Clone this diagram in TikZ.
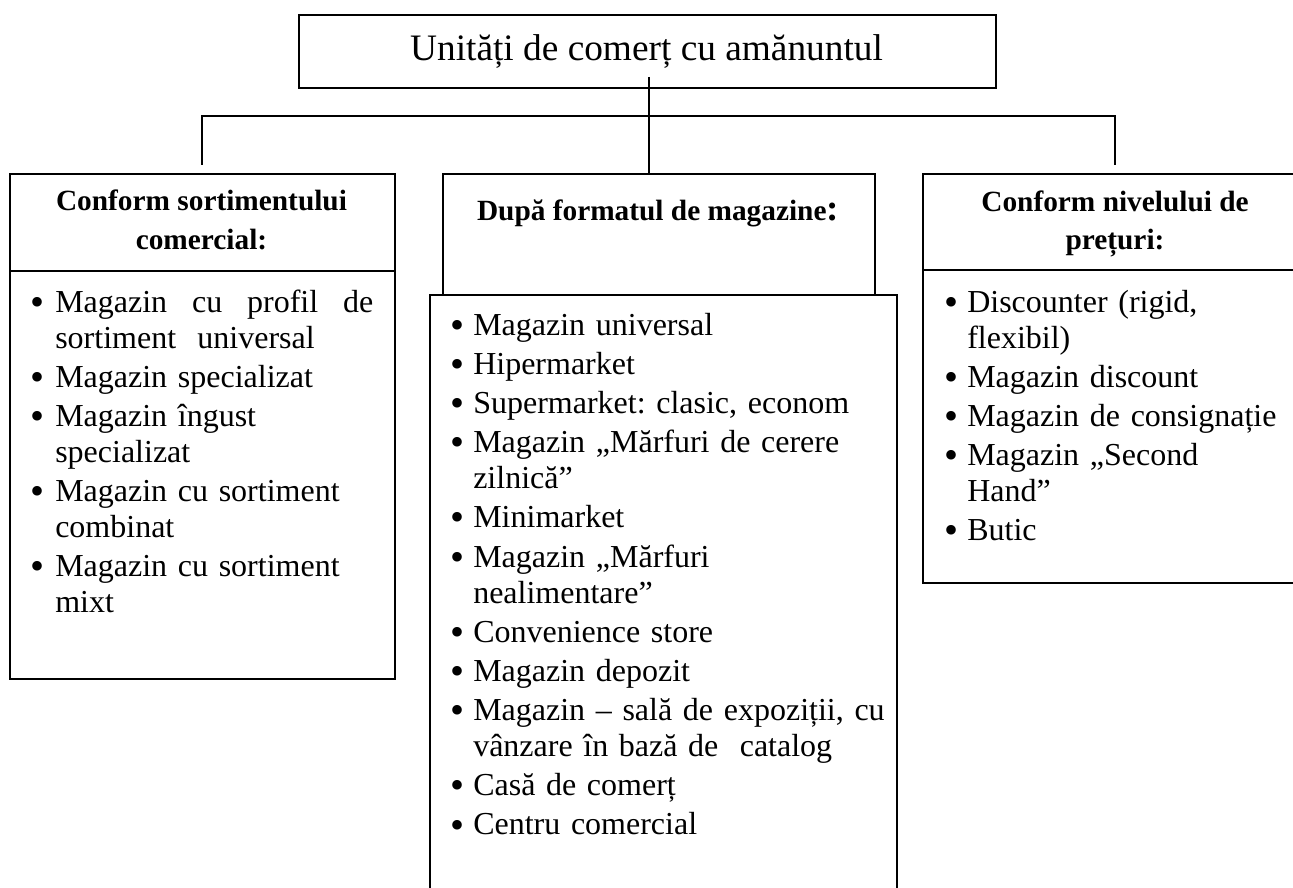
\documentclass[tikz,border=0pt]{standalone}
\usepackage{fontspec}
\setmainfont{Liberation Serif}
\frenchspacing
\newcommand\bulgap{6.5pt}
% a slightly enlarged bullet, lowered back onto the text line
\newcommand\bigbullet{\raisebox{-2.3pt}{\fontsize{30}{27}\selectfont\textbullet}}
% first bullet of a list, then every following one
\newcommand\bulfirst{\noindent\llap{\bigbullet\hspace{\bulgap}}}
\newcommand\bul{\par\vspace{2.4pt}\bulfirst}
\tikzset{
  box/.style={draw, line width=1.4pt, inner sep=0pt, anchor=north west},
  link/.style={line width=1pt},
  listtxt/.style={anchor=base west, inner sep=0pt, align=left, text width=#1,
    font=\fontsize{24}{27}\selectfont,
    execute at begin node={\setlength{\parskip}{0pt}\hyphenpenalty=10000}},
  headtxt/.style={anchor=base, inner sep=0pt, align=center,
    font=\fontsize{22}{29}\selectfont\bfseries},
}
\begin{document}
\begin{tikzpicture}[x=0.75pt, y=-0.75pt]
\useasboundingbox (0,0) rectangle (1293,888);

% frames
\node[box, minimum width=522.75pt, minimum height=54.75pt] (top) at (298,14) {};
\node[box, minimum width=288.75pt, minimum height=72.75pt] (lhead) at (9,173) {};
\node[box, minimum width=288.75pt, minimum height=306pt] (lbody) at (9,270) {};
\node[box, minimum width=324pt, minimum height=90.75pt] (mhead) at (442,173) {};
\node[box, minimum width=350.25pt, minimum height=460pt] (mbody) at (429,294) {};
\node[box, minimum width=289.5pt, minimum height=72pt] (rhead) at (922,173) {};
\node[box, minimum width=289.5pt, minimum height=234.75pt] (rbody) at (922,269) {};

% connectors
\coordinate (stem) at (649,77);
\coordinate (busL) at (202,116);
\coordinate (busR) at (1115,116);
\coordinate (lfoot) at (202,165);
\coordinate (rfoot) at (1115,165);
\draw[link] (stem) -- (stem |- mhead.north);
\draw[link] (lfoot) -- (busL) -- (busR) -- (rfoot);

% title and headings (two-line headings are placed by their last baseline)
\node[anchor=base, inner sep=0pt, font=\fontsize{28}{32}\selectfont] (title) at (646.5,61) {Unități de comerț cu amănuntul};
\node[headtxt] (ltitle) at (201.5,249) {Conform sortimentului\\comercial:};
\node[headtxt] (mtitle) at (658,221) {După formatul de magazine{\fontsize{28}{28}\selectfont:}};
\node[headtxt] (rtitle) at (1115,250) {Conform nivelului de\\prețuri:};

% lists
\node[listtxt=238.5pt, execute at begin node={\renewcommand\bulgap{7.8pt}}] (llist) at (55,312) {%
\bulfirst\hbox to 238.5pt{Magazin\hfill cu\hfill profil\hfill de}\\sortiment\ \ universal
\bul Magazin specializat
\bul Magazin îngust\\specializat
\bul Magazin cu sortiment\\combinat
\bul Magazin cu sortiment\\mixt};

\node[listtxt=310pt] (mlist) at (473,335) {%
\bulfirst Magazin universal
\bul Hipermarket
\bul Supermarket: clasic, econom
\bul Magazin „Mărfuri de cerere\\zilnică”
\bul Minimarket
\bul Magazin „Mărfuri\\nealimentare”
\bul Convenience store
\bul Magazin depozit
\bul Magazin – sală de expoziții, cu\\vânzare în bază de\ \ catalog
\bul Casă de comerț
\bul Centru comercial};

\node[listtxt=244.5pt] (rlist) at (967,312) {%
\bulfirst Discounter (rigid,\\flexibil)
\bul Magazin discount
\bul Magazin de consignație
\bul Magazin „Second\\Hand”
\bul Butic};
\end{tikzpicture}
\end{document}
